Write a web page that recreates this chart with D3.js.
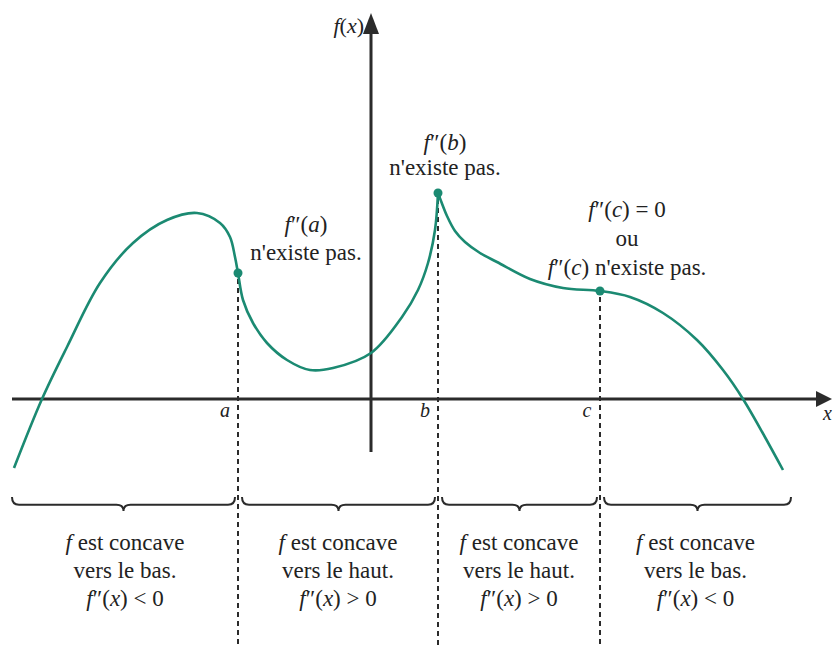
<!DOCTYPE html>
<html>
<head>
<meta charset="utf-8">
<script src="https://cdn.jsdelivr.net/npm/d3@7"></script>
<style>
  body { margin: 0; background: #fff; }
  svg text { font-family: "Liberation Serif", "DejaVu Serif", serif; fill: #222; }
</style>
</head>
<body>
<svg id="chart" width="833" height="647"></svg>
<script>
// Concavity diagram: f is concave down / up between the critical points a, b, c
// Curve values in plot units (1 unit = 10 px), y-axis at x = 0

// curve from the far left up to the cusp at b
const leftBranch = [
  [-35.7, -6.9], [-32.9, 0], [-30.4, 5.2], [-27.1, 11.6], [-23.8, 15.6],
  [-20.4, 17.9], [-17.4, 18.6], [-15.1, 17.6], [-14.1, 16.2], [-13.6, 14.2],
  [-13.3, 12.6], [-12.8, 9.9], [-11.8, 7.6], [-10.4, 5.6], [-8.4, 3.9],
  [-6.1, 2.9], [-3.8, 3.1], [0, 4.6], [3.1, 8.2], [4.7, 10.9],
  [5.7, 13.6], [6.4, 16.9], [6.7, 20.6]
];

// curve from the cusp at b to the far right
const rightBranch = [
  [6.7, 20.6], [7.0, 19.8], [7.6, 18.3], [8.4, 16.8], [9.4, 15.7],
  [10.9, 14.6], [12.6, 13.7], [15.9, 12.0], [19.2, 11.1], [22.9, 10.8],
  [25.9, 10.2], [29.2, 8.6], [32.6, 5.9], [35.2, 2.9], [37.2, 0], [41.2, -7.1]
];

// critical points
const critNames = ["a", "b", "c"];
const critX = [-13.3, 6.7, 22.9];
const critY = [12.6, 20.6, 10.8];

// annotations next to each critical point (*...* = italic)
const critNotes = [
  ["*f*″(*a*)", "n'existe pas."],
  ["*f*″(*b*)", "n'existe pas."],
  ["*f*″(*c*) = 0", "ou", "*f*″(*c*) n'existe pas."]
];

// intervals under the braces
const intervalEdges = [-35.9, -13.3, 6.7, 22.9, 42.0];
const intervalLine1 = ["*f* est concave", "*f* est concave", "*f* est concave", "*f* est concave"];
const intervalLine2 = ["vers le bas.", "vers le haut.", "vers le haut.", "vers le bas."];
const intervalLine3 = ["*f*″(*x*) < 0", "*f*″(*x*) > 0", "*f*″(*x*) > 0", "*f*″(*x*) < 0"];

// axes extents
const xAxisExtent = [-35.9, 46.1];
const yAxisExtent = [-5.3, 38.6];

const width = 833, height = 647;
const svg = d3.select("#chart");
const teal = "#1b8a72";
const ink = "#2b2b2b";
const serif = "'Liberation Serif', 'DejaVu Serif', serif";

const x = d3.scaleLinear().domain([-36, 46]).range([11, 831]);
const y = d3.scaleLinear().domain([-24.8, 38.6]).range([647, 13]);

// text with *italic* parts
function rich(sel, str) {
  sel.attr("font-family", serif);
  str.split("*").forEach((part, i) => {
    if (!part) return;
    sel.append("tspan")
      .style("font-style", i % 2 ? "italic" : "normal")
      .text(part);
  });
  return sel;
}

// Axes
svg.append("line")
  .attr("x1", x(xAxisExtent[0])).attr("x2", x(xAxisExtent[1]) - 10)
  .attr("y1", y(0)).attr("y2", y(0))
  .attr("stroke", ink).attr("stroke-width", 3);
svg.append("path")
  .attr("d", `M${x(xAxisExtent[1])},${y(0)} l-16,-8 l0,16 z`)
  .attr("fill", ink);

svg.append("line")
  .attr("x1", x(0)).attr("x2", x(0))
  .attr("y1", y(yAxisExtent[0])).attr("y2", y(yAxisExtent[1]) + 10)
  .attr("stroke", ink).attr("stroke-width", 3);
svg.append("path")
  .attr("d", `M${x(0)},${y(yAxisExtent[1])} l-8,21 l16,0 z`)
  .attr("fill", ink);

rich(svg.append("text")
  .attr("x", x(0) - 7).attr("y", y(yAxisExtent[1]) + 20)
  .attr("text-anchor", "end")
  .style("font-size", "22px"), "*f*(*x*)");

rich(svg.append("text")
  .attr("x", x(xAxisExtent[1]) - 9).attr("y", y(0) + 21)
  .style("font-size", "20px"), "*x*");

// Dashed verticals through a, b, c
svg.selectAll(".guide")
  .data(critX)
  .join("line")
  .attr("class", "guide")
  .attr("x1", d => x(d)).attr("x2", d => x(d))
  .attr("y1", (d, i) => y(critY[i]) + 6).attr("y2", height)
  .attr("stroke", ink).attr("stroke-width", 2)
  .attr("stroke-dasharray", "5,4");

// a, b, c tick labels
svg.selectAll(".crit-label")
  .data(critNames)
  .join("text")
  .attr("class", "crit-label")
  .attr("x", (d, i) => x(critX[i]) - 13)
  .attr("y", y(0) + 18)
  .attr("text-anchor", "middle")
  .attr("font-family", serif)
  .style("font-size", "20px").style("font-style", "italic")
  .text(d => d);

// Curve
const line = d3.line()
  .x(d => x(d[0]))
  .y(d => y(d[1]))
  .curve(d3.curveCatmullRom.alpha(0.5));

svg.selectAll(".branch")
  .data([leftBranch, rightBranch])
  .join("path")
  .attr("class", "branch")
  .attr("fill", "none")
  .attr("stroke", teal)
  .attr("stroke-width", 2.6)
  .attr("d", line);

svg.selectAll(".crit-dot")
  .data(critX)
  .join("circle")
  .attr("class", "crit-dot")
  .attr("cx", d => x(d))
  .attr("cy", (d, i) => y(critY[i]))
  .attr("r", 4.5)
  .attr("fill", teal);

// Notes beside critical points
const noteOffsets = [[68, -41, 28], [7, -43, 25], [27, -74, 29]];
critNotes.forEach((lines, i) => {
  const [dx, dy, lh] = noteOffsets[i];
  lines.forEach((str, j) => {
    rich(svg.append("text")
      .attr("x", x(critX[i]) + dx)
      .attr("y", y(critY[i]) + dy + j * lh)
      .attr("text-anchor", "middle")
      .style("font-size", "23px"), str);
  });
});

// Braces under the axis
function brace(x1, x2, yTop, h) {
  const mid = (x1 + x2) / 2, q = 7;
  const yl = yTop + h * 0.55;
  return `M${x1},${yTop} Q${x1},${yl} ${x1 + q},${yl} L${mid - q},${yl} Q${mid},${yl} ${mid},${yTop + h}` +
    ` Q${mid},${yl} ${mid + q},${yl} L${x2 - q},${yl} Q${x2},${yl} ${x2},${yTop}`;
}

const intervals = d3.pairs(intervalEdges);
svg.selectAll(".brace")
  .data(intervals)
  .join("path")
  .attr("class", "brace")
  .attr("fill", "none")
  .attr("stroke", ink)
  .attr("stroke-width", 2)
  .attr("d", ([a, b], i) => brace(x(a) + (i ? 4 : 0), x(b) - (i < 3 ? 3 : 0), 497, 14));

intervals.forEach(([a, b], i) => {
  const cx = (x(a) + x(b)) / 2;
  [intervalLine1[i], intervalLine2[i], intervalLine3[i]].forEach((str, j) => {
    rich(svg.append("text")
      .attr("x", cx)
      .attr("y", 550 + j * 28)
      .attr("text-anchor", "middle")
      .style("font-size", "23px"), str);
  });
});
</script>
</body>
</html>
